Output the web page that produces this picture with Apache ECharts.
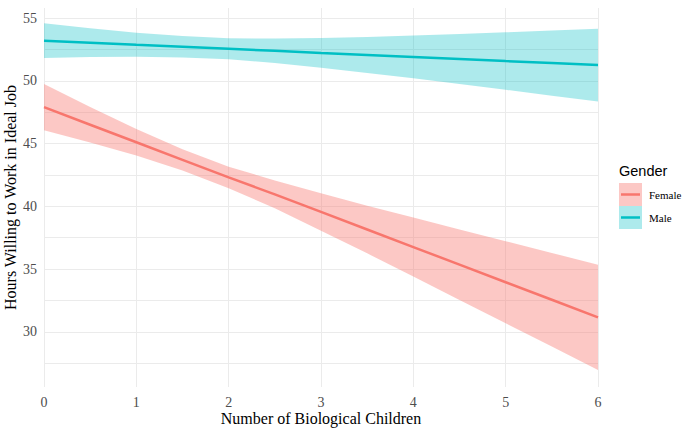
<!DOCTYPE html>
<html>
<head>
<meta charset="utf-8">
<script src="https://cdn.jsdelivr.net/npm/echarts@6/dist/echarts.min.js"></script>
<style>html,body{margin:0;padding:0;background:#fff}#c{width:689px;height:429px}</style>
</head>
<body>
<div id="c"></div>
<script>
// ---- data ----
const xs = [0, 0.5, 1, 1.5, 2, 2.5, 3, 3.5, 4, 4.5, 5, 5.5, 6];
const femaleFit   = [47.9, 46.5, 45.1, 43.7, 42.3, 40.95, 39.55, 38.15, 36.75, 35.35, 33.95, 32.55, 31.15];
const femaleLower = [46.05, 45.09, 44.04, 42.86, 41.44, 39.84, 38.06, 36.25, 34.4, 32.54, 30.68, 28.82, 26.95];
const femaleUpper = [49.75, 47.91, 46.16, 44.54, 43.16, 42.06, 41.04, 40.05, 39.1, 38.16, 37.22, 36.28, 35.35];
const maleFit     = [53.2, 53.04, 52.87, 52.71, 52.55, 52.39, 52.22, 52.06, 51.9, 51.74, 51.57, 51.41, 51.25];
const maleLower   = [51.82, 51.9, 51.92, 51.85, 51.71, 51.42, 51.04, 50.63, 50.2, 49.75, 49.28, 48.81, 48.35];
const maleUpper   = [54.58, 54.18, 53.82, 53.57, 53.39, 53.36, 53.4, 53.49, 53.6, 53.73, 53.86, 54.01, 54.15];
const yTickLabels = [30, 35, 40, 45, 50, 55];
const yGridValues = [27.5, 30, 32.5, 35, 37.5, 40, 42.5, 45, 47.5, 50, 52.5, 55];
const groups = ['Female', 'Male'];
// --------------------------------------

const colors = { Female: '#F8766D', Male: '#00BFC4' };
const fills = { Female: 'rgba(248,118,109,0.4)', Male: 'rgba(0,191,196,0.32)' };
const pairs = (ys) => xs.map((x, i) => [x, ys[i]]);

const bandData = {
  Female: { lo: femaleLower, hi: femaleUpper, fit: femaleFit },
  Male: { lo: maleLower, hi: maleUpper, fit: maleFit }
};

const series = [];
groups.forEach(g => {
  const d = bandData[g];
  const rows = xs.map((x, i) => [x, d.lo[i], d.hi[i]]);
  series.push({
    type: 'custom', silent: true, z: 1,
    data: rows,
    encode: { x: 0, y: [1, 2] },
    renderItem: function (params, api) {
      if (params.dataIndex !== 0) return null;
      const pts = [];
      rows.forEach(r => pts.push(api.coord([r[0], r[2]])));
      for (let i = rows.length - 1; i >= 0; i--) pts.push(api.coord([rows[i][0], rows[i][1]]));
      return { type: 'polygon', shape: { points: pts }, style: { fill: fills[g], stroke: null } };
    }
  });
});
groups.forEach(g => {
  series.push({
    name: g, type: 'line', data: pairs(bandData[g].fit), symbol: 'none',
    lineStyle: { color: colors[g], width: 2.5 }, z: 3
  });
});

const serif = 'Liberation Serif, Times New Roman, serif';
const chart = echarts.init(document.getElementById('c'), null, { renderer: 'svg' });
chart.setOption({
  animation: false,
  backgroundColor: '#fff',
  grid: { left: 44, right: 91, top: 8, bottom: 42, containLabel: false, outerBoundsMode: 'none' },
  xAxis: {
    type: 'value', min: 0, max: 6, interval: 1,
    name: 'Number of Biological Children', nameLocation: 'middle', nameGap: 23, nameMoveOverlap: false,
    nameTextStyle: { fontFamily: serif, fontSize: 16, color: '#000' },
    axisLine: { show: false }, axisTick: { show: false },
    axisLabel: { fontFamily: serif, fontSize: 14, color: '#4d4d4d', margin: 8 },
    splitLine: { show: true, lineStyle: { color: '#ebebeb', width: 1 } }
  },
  yAxis: {
    type: 'value', min: 25.6, max: 55.8,
    name: 'Hours Willing to Work in Ideal Job', nameLocation: 'middle', nameGap: 26, nameMoveOverlap: false,
    nameTextStyle: { fontFamily: serif, fontSize: 16, color: '#000' },
    axisLine: { show: false },
    axisTick: { show: false, customValues: yGridValues },
    axisLabel: { fontFamily: serif, fontSize: 14, color: '#4d4d4d', margin: 7, customValues: yTickLabels },
    splitLine: { show: true, lineStyle: { color: '#ebebeb', width: 1 } }
  },
  series: series,
  graphic: [
    { type: 'text', left: 619, top: 163, style: { text: 'Gender', font: '14.5px "Liberation Sans", Arial, sans-serif', fill: '#000' } },
    { type: 'rect', shape: { x: 619, y: 183, width: 23, height: 23 }, style: { fill: fills.Female } },
    { type: 'line', shape: { x1: 621, y1: 194.5, x2: 640, y2: 194.5 }, style: { stroke: colors.Female, lineWidth: 2.5 } },
    { type: 'text', x: 649, y: 194.5, style: { text: groups[0], font: '11px "Liberation Serif", serif', fill: '#000', verticalAlign: 'middle' } },
    { type: 'rect', shape: { x: 619, y: 206, width: 23, height: 23 }, style: { fill: fills.Male } },
    { type: 'line', shape: { x1: 621, y1: 217.5, x2: 640, y2: 217.5 }, style: { stroke: colors.Male, lineWidth: 2.5 } },
    { type: 'text', x: 649, y: 217.5, style: { text: groups[1], font: '11px "Liberation Serif", serif', fill: '#000', verticalAlign: 'middle' } }
  ]
});
</script>
</body>
</html>
